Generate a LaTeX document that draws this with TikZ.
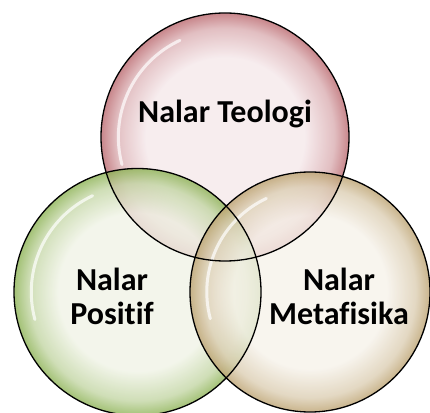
\documentclass[tikz,border=0pt]{standalone}
\usepackage{fontspec}
\setmainfont{Carlito}[Ligatures=NoCommon]
\usepackage{tikz}
\usetikzlibrary{calc}

\definecolor{teoIn}{RGB}{245,232,234}
\definecolor{teoRim}{RGB}{186,104,110}
\definecolor{posIn}{RGB}{240,243,230}
\definecolor{posRim}{RGB}{140,178,84}
\definecolor{metIn}{RGB}{246,242,234}
\definecolor{metRim}{RGB}{188,162,112}

\pgfdeclareradialshading{teoshade}{\pgfpointorigin}{color(0bp)=(teoIn); color(16bp)=(teoIn); color(22bp)=(teoRim!45!teoIn); color(25bp)=(teoRim); color(50bp)=(teoRim)}
\pgfdeclareradialshading{posshade}{\pgfpointorigin}{color(0bp)=(posIn); color(16bp)=(posIn); color(22bp)=(posRim!45!posIn); color(25bp)=(posRim); color(50bp)=(posRim)}
\pgfdeclareradialshading{metshade}{\pgfpointorigin}{color(0bp)=(metIn); color(16bp)=(metIn); color(22bp)=(metRim!45!metIn); color(25bp)=(metRim); color(50bp)=(metRim)}

\tikzset{
  bubble/.style={fill opacity=0.8},
  rim/.style={draw=black, line width=1.3pt},
  gloss/.style={draw=white, line width=3pt, opacity=0.7, line cap=round},
  label/.style={font=\fontsize{32}{34}\selectfont\bfseries, align=center, text=black}
}

\begin{document}
\begin{tikzpicture}[x=1pt,y=1pt]
    		\useasboundingbox (0,0) rectangle (430,412);
    		\coordinate (T) at (225,275);
    		\coordinate (P) at (137.5,120);
    		\coordinate (M) at (310,120);
    		
    		% the three bubbles
    		\foreach \c/\r/\s in {
    			T/124/teoshade,
    			P/123.5/posshade,
    			M/120/metshade}{
    			\shade[bubble, shading=\s] (\c) circle[radius=\r pt];
    			\draw[gloss] ($(\c)+(115:0.86*\r pt)$) arc[start angle=115, end angle=195, radius=0.86*\r pt];
    		}
    		\foreach \c/\r in {T/124, P/123.5, M/120}{
    			\draw[rim] (\c) circle[radius=\r pt];
    		}
    		
    		\node[label] (teologi) at (225,298) {Nalar Teologi};
    		\node[label] (positif) at (112,116) {Nalar\\Positif};
    		\node[label] (metafisika) at (339,116) {Nalar\\Metafisika};
    	\end{tikzpicture}
\end{document}
